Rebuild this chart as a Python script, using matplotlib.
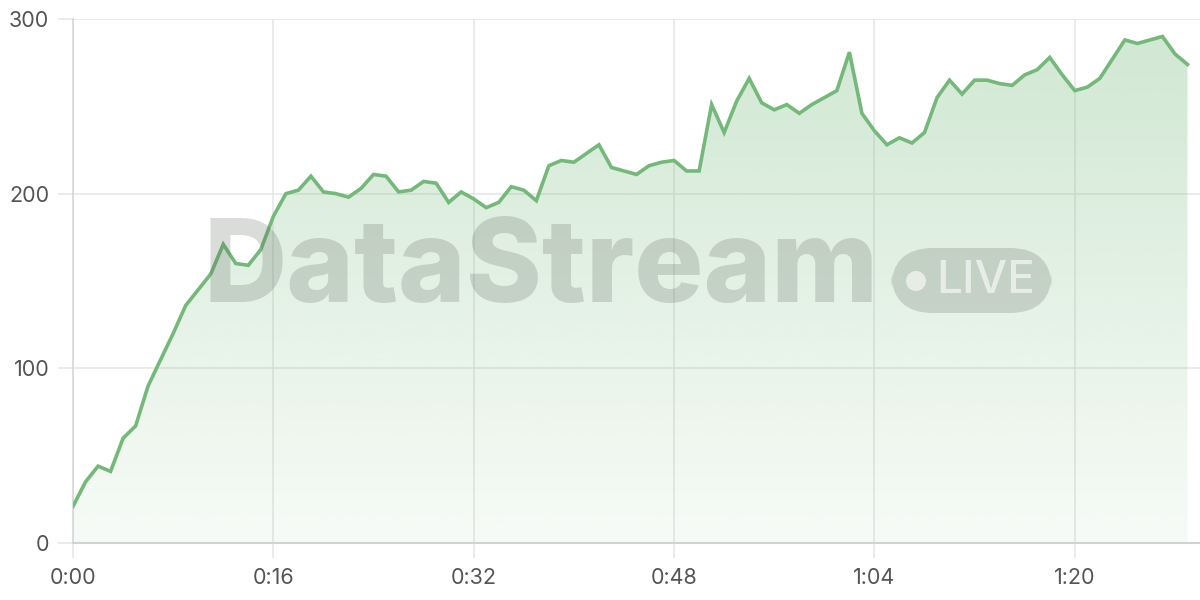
import numpy as np
import matplotlib
matplotlib.use('Agg')
import matplotlib.pyplot as plt
from matplotlib.patches import FancyBboxPatch, Ellipse
from matplotlib.ticker import FuncFormatter

# seconds since start and the live value
seconds = list(range(90))
values = [21, 35, 44, 41, 60, 67, 90, 105, 120, 136,
          145, 154, 171, 160, 159, 168, 187, 200, 202, 210,
          201, 200, 198, 203, 211, 210, 201, 202, 207, 206,
          195, 201, 197, 192, 195, 204, 202, 196, 216, 219,
          218, 223, 228, 215, 213, 211, 216, 218, 219, 213,
          213, 251, 235, 253, 266, 252, 248, 251, 246, 251,
          255, 259, 281, 246, 236, 228, 232, 229, 235, 255,
          265, 257, 265, 265, 263, 262, 268, 271, 278, 268,
          259, 261, 266, 277, 288, 286, 288, 290, 280, 274]
x_ticks = [0, 16, 32, 48, 64, 80]
y_ticks = [0, 100, 200, 300]

green = '#74b97a'
grid_c = '#e6e6e6'
label_c = '#555555'

plt.rcParams['font.family'] = ['Inter', 'DejaVu Sans']

fig = plt.figure(figsize=(12, 6), dpi=100)
ax = fig.add_axes([73/1200, 57/600, 1 - 73/1200, (543-19)/600])
ax.set_xlim(0, 90)
ax.set_ylim(0, 300)

# gradient fill under the line
poly = ax.fill_between(seconds, values, 0, facecolor='none', edgecolor='none')
n = 256
alpha = np.linspace(0.06, 0.34, n)
rgba = np.zeros((n, 1, 4))
rgba[:, 0, :3] = matplotlib.colors.to_rgb(green)
rgba[:, 0, 3] = alpha
im = ax.imshow(rgba, extent=[0, seconds[-1], 0, 300], origin='lower',
               aspect='auto', zorder=1, interpolation='bilinear')
im.set_clip_path(poly.get_paths()[0], transform=ax.transData)

ax.plot(seconds, values, color=green, lw=2.6, zorder=5, solid_joinstyle='miter')

ax.set_xticks(x_ticks)
ax.set_yticks(y_ticks)
ax.xaxis.set_major_formatter(FuncFormatter(lambda v, p: '%d:%02d' % (v // 60, v % 60)))
ax.grid(True, color=grid_c, lw=1.1, zorder=0)
ax.tick_params(axis='both', colors=grid_c, labelcolor=label_c, labelsize=15.5,
               length=11, width=1.1)
ax.tick_params(axis='y', pad=6)
ax.tick_params(axis='x', pad=7)
for s in ['top', 'right']:
    ax.spines[s].set_visible(False)
ax.spines['left'].set_color('#d4d4d4')
ax.spines['bottom'].set_color('#d0d4d0')
ax.spines['left'].set_linewidth(1.1)
ax.spines['bottom'].set_linewidth(1.5)
ax.set_axisbelow(True)

# watermark
wm = (0.35, 0.38, 0.35, 0.22)
fig.text(541/1200, 1 - 272/600, 'DataStream', fontsize=83, fontweight='heavy',
         color=wm, ha='center', va='center', zorder=3)
pill = FancyBboxPatch((891/1200, 1 - 313/600), 161/1200, 65/600,
                      boxstyle='round,pad=0,rounding_size=0.035',
                      transform=fig.transFigure, facecolor=wm, edgecolor='none',
                      mutation_aspect=2, zorder=3)
fig.patches.append(pill)
fig.patches.append(Ellipse((916/1200, 1 - 281/600), 20/1200, 20/600, transform=fig.transFigure,
                           facecolor=(1, 1, 1, 0.6), edgecolor='none', zorder=4))
fig.text(986/1200, 1 - 281/600, 'LIVE', fontsize=33, fontweight='medium',
         color=(1, 1, 1, 0.6), ha='center', va='center', zorder=4)

fig.savefig('out.png', dpi=100)
